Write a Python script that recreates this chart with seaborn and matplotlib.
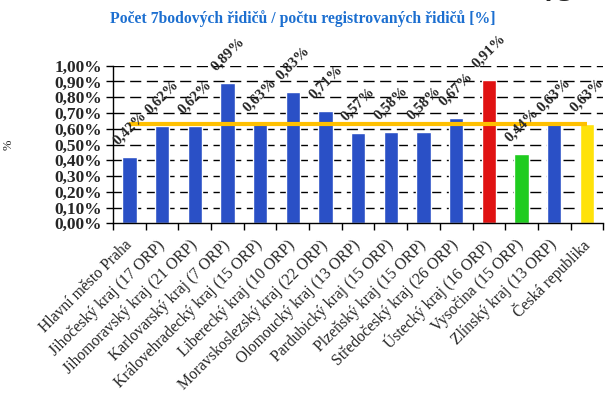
import matplotlib
matplotlib.use("Agg")
import matplotlib.pyplot as plt
import seaborn as sns
import pandas as pd

# Share of drivers with 7 points in their record, by region (%)
regions = [
    "Hlavní město Praha",
    "Jihočeský kraj (17 ORP)",
    "Jihomoravský kraj (21 ORP)",
    "Karlovarský kraj (7 ORP)",
    "Královehradecký kraj (15 ORP)",
    "Liberecký kraj (10 ORP)",
    "Moravskoslezský kraj (22 ORP)",
    "Olomoucký kraj (13 ORP)",
    "Pardubický kraj (15 ORP)",
    "Plzeňský kraj (15 ORP)",
    "Středočeský kraj (26 ORP)",
    "Ústecký kraj (16 ORP)",
    "Vysočina (15 ORP)",
    "Zlínský kraj (13 ORP)",
    "Česká republika",
]
share = [0.42, 0.62, 0.62, 0.89, 0.63, 0.83, 0.71, 0.57, 0.58, 0.58,
         0.67, 0.91, 0.44, 0.63, 0.63]
national = 0.63
yticks = [0.0, 0.1, 0.2, 0.3, 0.4, 0.5, 0.6, 0.7, 0.8, 0.9, 1.0]

BLUE = "#2A50C6"
bar_colors = {r: BLUE for r in regions}
bar_colors["Ústecký kraj (16 ORP)"] = "#E01212"
bar_colors["Vysočina (15 ORP)"] = "#1FCC1F"
bar_colors["Česká republika"] = "#FFE20A"

df = pd.DataFrame({"region": regions, "share": share})

sns.set_style("white")
plt.rcParams["font.family"] = ["Liberation Serif", "DejaVu Serif"]

fig = plt.figure(figsize=(6.05, 3.97), dpi=100)
ax = fig.add_axes([0.187, 0.4375, 0.81, 0.397])

sns.barplot(data=df, x="region", y="share", hue="region", palette=bar_colors,
            width=0.44, legend=False, ax=ax, saturation=1, zorder=2)

# national level across all regions
ax.hlines(national, 0, len(regions) - 1, color="#FFC000", lw=3, zorder=3)

ax.set_ylim(0, 1.0)
ax.set_xlim(-0.5, len(regions) - 0.5)
ax.set_yticks(yticks)
ax.set_yticklabels([f"{v:.2f}".replace(".", ",") + "%" for v in yticks],
                   fontsize=12.5, fontweight="bold")
for v in yticks[1:]:
    ax.axhline(v, color="black", lw=1, ls=(0, (8, 4)), zorder=1)

ax.set_xticks(range(len(regions)))
ax.set_xticklabels(regions, rotation=45, ha="right", rotation_mode="anchor",
                   va="center", fontsize=11.3)
ax.tick_params(axis="x", length=0, pad=14)
ax.tick_params(axis="y", length=5, width=1, color="black", pad=3, direction="out", left=True)
# category boundary ticks on the x axis
ax.set_xticks([i - 0.5 for i in range(len(regions) + 1)], minor=True)
ax.tick_params(axis="x", which="minor", length=5, width=1, color="black", direction="out", bottom=True)

for s in ("top", "right"):
    ax.spines[s].set_visible(False)
for s in ("left", "bottom"):
    ax.spines[s].set_color("black")
    ax.spines[s].set_linewidth(1)

ax.set_xlabel("")
ax.set_ylabel("%", fontsize=9)
ax.yaxis.set_label_coords(-0.2, 0.5)

for i, v in enumerate(share):
    ax.annotate(f"{v:.2f}".replace(".", ",") + "%", (i, v), xytext=(0, 7),
                textcoords="offset points", rotation=45, ha="center", va="bottom",
                fontsize=10.8, fontweight="bold", annotation_clip=False, zorder=4)

fig.text(0.5, 0.953, "Počet 7bodových řidičů / počtu registrovaných řidičů [%]",
         ha="center", va="center", color="#1C6FD0", fontsize=11.3, fontweight="bold")
fig.text(0.9, 1 - 8 / 397, "75", ha="left", va="bottom", fontsize=22,
         fontweight="bold", fontstyle="italic")

fig.savefig("out.png", dpi=100)
